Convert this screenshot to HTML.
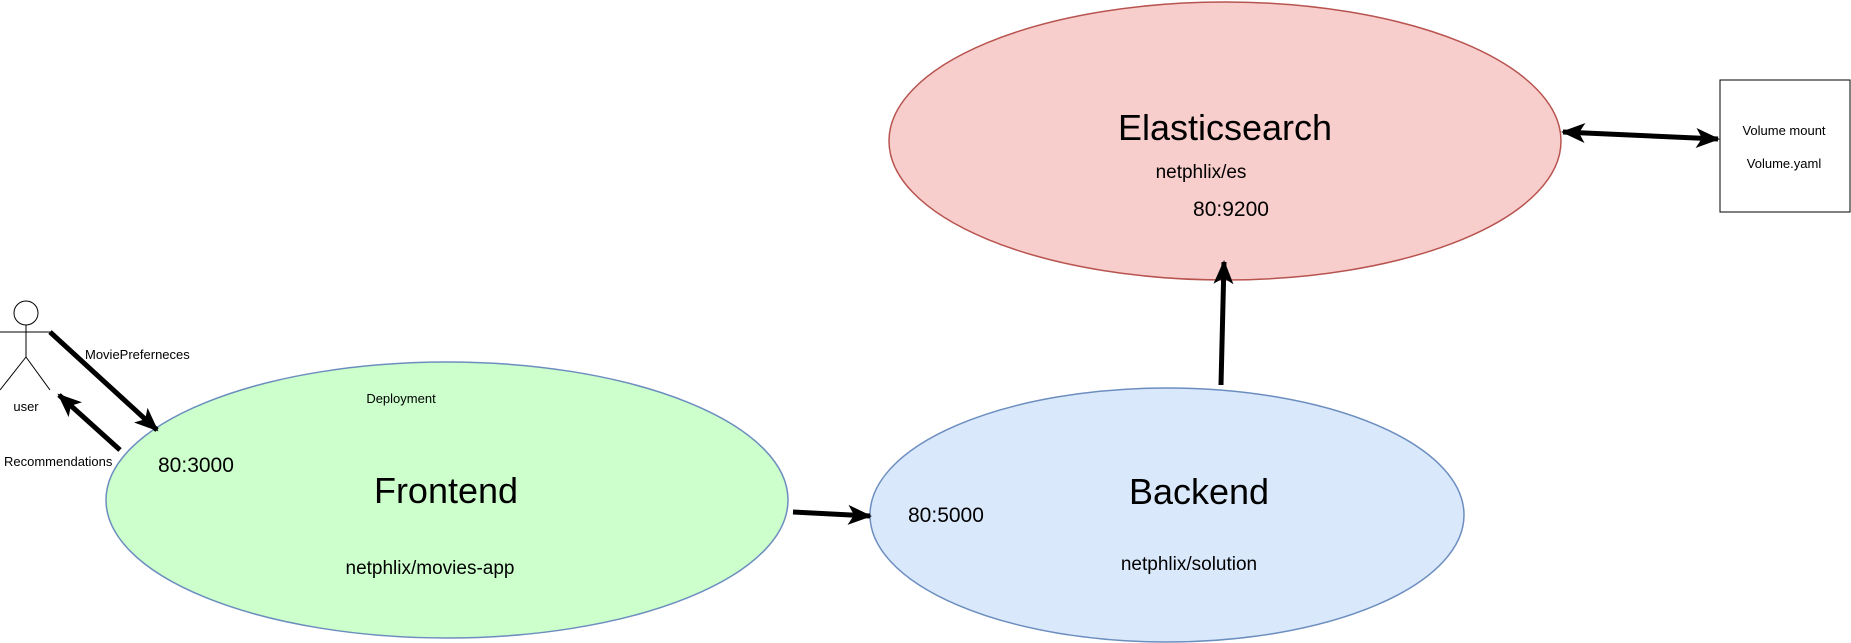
<!DOCTYPE html>
<html><head><meta charset="utf-8"><style>
html,body{margin:0;padding:0;background:#fff;}
svg{display:block;font-family:"Liberation Sans",sans-serif;}
</style></head><body>
<svg width="1851" height="643" viewBox="0 0 1851 643" xmlns="http://www.w3.org/2000/svg">
<defs>
<marker id="b" viewBox="0 0 24 24" refX="22" refY="12" markerWidth="24" markerHeight="24" orient="auto-start-reverse" markerUnits="userSpaceOnUse">
<path d="M0,2 L24,12 L0,22 L6,12 z" fill="#000"/></marker>
</defs>
<ellipse cx="447" cy="500" rx="341" ry="138" fill="#ccffcc" stroke="#6c8ebf" stroke-width="1.5"/>
<ellipse cx="1167" cy="515" rx="297" ry="127" fill="#dae8fc" stroke="#6c8ebf" stroke-width="1.5"/>
<ellipse cx="1225" cy="141" rx="336" ry="139" fill="#f8cecc" stroke="#b85450" stroke-width="1.5"/>
<rect x="1720" y="80" width="130" height="132" fill="#fff" stroke="#000" stroke-width="1"/>
<g stroke="#000" stroke-width="1" fill="#fff">
<circle cx="26" cy="313" r="12"/>
<line x1="26" y1="325" x2="26" y2="357"/>
<line x1="0" y1="332" x2="50" y2="332"/>
<line x1="26" y1="357" x2="0" y2="390"/>
<line x1="26" y1="357" x2="50" y2="390"/>
</g>
<g stroke="#000" stroke-width="5" fill="none">
<line x1="50" y1="332" x2="157" y2="430" marker-end="url(#b)"/>
<line x1="120" y1="450" x2="59" y2="395" marker-end="url(#b)"/>
<line x1="793" y1="512" x2="870" y2="516" marker-end="url(#b)"/>
<line x1="1221" y1="385" x2="1224" y2="262" marker-end="url(#b)"/>
<line x1="1563" y1="132" x2="1718" y2="139" marker-start="url(#b)" marker-end="url(#b)"/>
</g>
<g fill="#000">
<text x="26" y="411" font-size="13" text-anchor="middle">user</text>
<text x="85" y="359" font-size="13">MoviePreferneces</text>
<text x="4" y="466" font-size="13">Recommendations</text>
<text x="401" y="403" font-size="13" text-anchor="middle">Deployment</text>
<text x="158" y="472" font-size="21">80:3000</text>
<text x="446" y="503" font-size="36" text-anchor="middle">Frontend</text>
<text x="430" y="574" font-size="19" text-anchor="middle">netphlix/movies-app</text>
<text x="908" y="522" font-size="21">80:5000</text>
<text x="1199" y="504" font-size="36" text-anchor="middle">Backend</text>
<text x="1189" y="570" font-size="19" text-anchor="middle">netphlix/solution</text>
<text x="1225" y="140" font-size="36" text-anchor="middle">Elasticsearch</text>
<text x="1201" y="178" font-size="19" text-anchor="middle">netphlix/es</text>
<text x="1231" y="216" font-size="21" text-anchor="middle">80:9200</text>
<text x="1784" y="135" font-size="13" text-anchor="middle">Volume mount</text>
<text x="1784" y="168" font-size="13" text-anchor="middle">Volume.yaml</text>
</g>
</svg>
</body></html>
